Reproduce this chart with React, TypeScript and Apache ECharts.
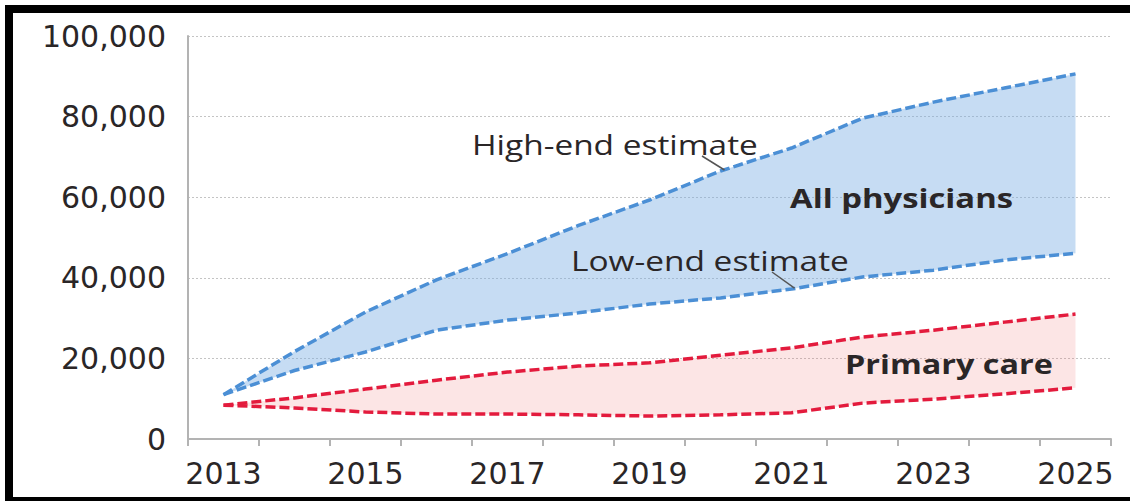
import React, { useEffect, useRef } from "react";
import * as echarts from "echarts";

// Projected physician shortage, 2013–2025
const years = ["2013", "2014", "2015", "2016", "2017", "2018", "2019", "2020", "2021", "2022", "2023", "2024", "2025"];
const allHigh = [11000, 21700, 31500, 39500, 46000, 53000, 59300, 66500, 72200, 79600, 83600, 87100, 90600];
const allLow = [11000, 17000, 21600, 27000, 29500, 31300, 33500, 35000, 37200, 40200, 41900, 44400, 46100];
const primaryHigh = [8400, 10200, 12400, 14600, 16600, 18100, 18900, 20800, 22600, 25300, 27000, 29000, 31000];
const primaryLow = [8400, 7700, 6700, 6200, 6200, 6000, 5700, 6000, 6500, 8900, 9900, 11200, 12700];
const yTicks = { min: 0, max: 100000, interval: 20000 };

const BLUE = "#4b8fd5";
const BLUE_FILL = "rgba(120,172,226,0.42)";
const RED = "#e31b3d";
const RED_FILL = "rgba(240,100,100,0.17)";
const TEXT = "#2a2627";
const AXIS_GREY = "#b3b3b3";

const dash = [10, 4];

function bandSeries(name: string, low: number[], high: number[], line: string, fill: string) {
  const diff = high.map((h, i) => h - low[i]);
  return [
    {
      name: name + " base",
      type: "line",
      stack: name,
      data: low,
      symbol: "none",
      silent: true,
      lineStyle: { opacity: 0 },
      z: 1,
    },
    {
      name: name + " band",
      type: "line",
      stack: name,
      data: diff,
      symbol: "none",
      silent: true,
      lineStyle: { opacity: 0 },
      areaStyle: { color: fill, opacity: 1 },
      z: 1,
    },
    {
      name: name + " low",
      type: "line",
      data: low,
      symbol: "none",
      lineStyle: { color: line, width: 3.5, type: dash },
      z: 3,
    },
    {
      name: name + " high",
      type: "line",
      data: high,
      symbol: "none",
      lineStyle: { color: line, width: 3.5, type: dash },
      z: 3,
    },
  ];
}

// Stretch a text horizontally so it spans a given width
function fitScale(text: string, font: string, target: number) {
  const ctx = document.createElement("canvas").getContext("2d");
  if (!ctx) return 1;
  ctx.font = font;
  const w = ctx.measureText(text).width;
  return w > 0 ? target / w : 1;
}

function label(text: string, x: number, y: number, size: number, weight: string, width: number) {
  const font = `${weight} ${size}px "Open Sans"`;
  return {
    type: "text",
    x,
    y,
    scaleX: fitScale(text, font, width),
    z: 10,
    style: {
      text,
      font,
      fill: TEXT,
      align: "left",
      verticalAlign: "bottom",
      textAlign: "left",
      textVerticalAlign: "bottom",
    },
  };
}

export default function App() {
  const ref = useRef<HTMLDivElement>(null);

  useEffect(() => {
    document.body.style.margin = "0";
    if (!ref.current) return;
    const chart = echarts.init(ref.current, null, { renderer: "svg" });

    chart.setOption({
      animation: false,
      backgroundColor: "#ffffff",
      grid: { left: 188, right: 19, top: 36, bottom: 62, containLabel: false },
      xAxis: {
        type: "category",
        data: years,
        boundaryGap: true,
        axisLine: { show: true, lineStyle: { color: AXIS_GREY, width: 2 } },
        axisTick: { show: true, interval: 0, length: 7, lineStyle: { color: AXIS_GREY, width: 2 } },
        axisLabel: {
          interval: 1,
          margin: 19,
          color: TEXT,
          fontFamily: "DejaVu Sans",
          fontSize: 30,
        },
        splitLine: { show: false },
      },
      yAxis: {
        type: "value",
        min: yTicks.min,
        max: yTicks.max,
        interval: yTicks.interval,
        axisLine: { show: true, lineStyle: { color: AXIS_GREY, width: 2 } },
        axisTick: { show: false },
        axisLabel: {
          margin: 22,
          color: TEXT,
          fontFamily: "DejaVu Sans",
          fontSize: 30,
          formatter: (v: number) => v.toLocaleString("en-US"),
        },
        splitLine: { show: true, lineStyle: { color: "#c4c4c4", width: 1, type: [2, 2] } },
      },
      series: [
        ...bandSeries("All physicians", allLow, allHigh, BLUE, BLUE_FILL),
        ...bandSeries("Primary care", primaryLow, primaryHigh, RED, RED_FILL),
      ],
    });

    // Leader lines end on the curves they describe
    const hiPt = chart.convertToPixel({ gridIndex: 0 }, [7, allHigh[7]]) as number[];
    const loPt = chart.convertToPixel({ gridIndex: 0 }, [8, allLow[8]]) as number[];

    chart.setOption({
      graphic: [
        // frame
        { type: "rect", shape: { x: 5, y: 5, width: 1125, height: 8 }, style: { fill: "#000" }, z: 20 },
        { type: "rect", shape: { x: 5, y: 5, width: 8, height: 496 }, style: { fill: "#000" }, z: 20 },
        { type: "rect", shape: { x: 5, y: 497, width: 1125, height: 4 }, style: { fill: "#000" }, z: 20 },
        // annotations
        label("High-end estimate", 472, 158, 27, "normal", 286),
        {
          type: "line",
          shape: { x1: 702, y1: 156, x2: hiPt[0] + 4, y2: hiPt[1] - 1 },
          style: { stroke: "#555", lineWidth: 1.5 },
          z: 10,
        },
        label("Low-end estimate", 571, 274, 27, "normal", 278),
        {
          type: "line",
          shape: { x1: 772, y1: 272, x2: loPt[0] + 3, y2: loPt[1] - 1 },
          style: { stroke: "#555", lineWidth: 1.5 },
          z: 10,
        },
        label("All physicians", 790, 211, 26, "bold", 223),
        label("Primary care", 845, 377, 26, "bold", 208),
      ],
    });

    return () => chart.dispose();
  }, []);

  return <div ref={ref} style={{ width: 1130, height: 501 }} />;
}
